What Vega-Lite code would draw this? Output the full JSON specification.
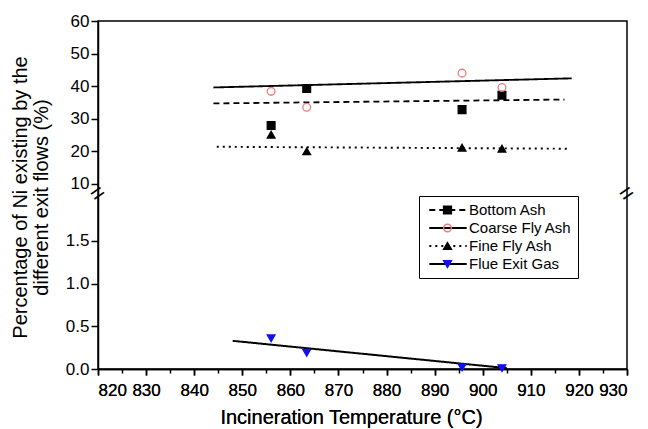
{
  "$schema": "https://vega.github.io/schema/vega-lite/v6.json",
  "width": 529,
  "height": 348,
  "autosize": "none",
  "padding": {"left": 98, "top": 21, "right": 21, "bottom": 60},
  "background": "white",
  "config": {
    "font": "Liberation Sans",
    "view": {"stroke": "black", "strokeWidth": 1.5},
    "axis": {
      "labelFont": "Liberation Sans",
      "titleFont": "Liberation Sans",
      "labelColor": "black",
      "titleColor": "black",
      "domainColor": "black",
      "tickColor": "black",
      "grid": false,
      "labelFontSize": 17,
      "titleFontSize": 20,
      "titleFontWeight": "normal",
      "domainWidth": 1.5,
      "tickWidth": 1.5
    },
    "legend": {"labelFont": "Liberation Sans", "labelFontSize": 15, "labelColor": "black"}
  },
  "datasets": {
    "points": [
      {"x": 856, "y": 27.9, "series": "Bottom Ash"},
      {"x": 863.4, "y": 39.3, "series": "Bottom Ash"},
      {"x": 895.7, "y": 32.8, "series": "Bottom Ash"},
      {"x": 904, "y": 37.2, "series": "Bottom Ash"},
      {"x": 856, "y": 38.4, "series": "Coarse Fly Ash"},
      {"x": 863.4, "y": 33.5, "series": "Coarse Fly Ash"},
      {"x": 895.7, "y": 44.0, "series": "Coarse Fly Ash"},
      {"x": 904, "y": 39.6, "series": "Coarse Fly Ash"},
      {"x": 856, "y": 25.1, "series": "Fine Fly Ash"},
      {"x": 863.4, "y": 20.0, "series": "Fine Fly Ash"},
      {"x": 895.7, "y": 21.1, "series": "Fine Fly Ash"},
      {"x": 904, "y": 20.8, "series": "Fine Fly Ash"},
      {"x": 856, "y": 0.36, "series": "Flue Exit Gas"},
      {"x": 863.4, "y": 0.19, "series": "Flue Exit Gas"},
      {"x": 895.7, "y": 0.02, "series": "Flue Exit Gas"},
      {"x": 904, "y": 0.01, "series": "Flue Exit Gas"}
    ],
    "fits": [
      {"x": 844, "y": 34.7, "line": "Bottom Ash"},
      {"x": 917, "y": 35.9, "line": "Bottom Ash"},
      {"x": 844, "y": 39.6, "line": "Coarse Fly Ash"},
      {"x": 918.5, "y": 42.4, "line": "Coarse Fly Ash"},
      {"x": 844.7, "y": 21.4, "line": "Fine Fly Ash"},
      {"x": 917.5, "y": 20.8, "line": "Fine Fly Ash"},
      {"x": 848, "y": 0.33, "line": "Flue Exit Gas"},
      {"x": 905, "y": 0.01, "line": "Flue Exit Gas"}
    ],
    "breaks": [
      {"x": 820, "y": 4.5, "mark": "="},
      {"x": 930, "y": 4.5, "mark": "="}
    ]
  },
  "encoding": {
    "x": {
      "field": "x",
      "type": "quantitative",
      "scale": {"domain": [820, 930], "nice": false, "zero": false},
      "axis": {
        "orient": "bottom",
        "values": [820, 830, 840, 850, 860, 870, 880, 890, 900, 910, 920, 930],
        "tickSize": 6,
        "labelPadding": 7,
        "title": "Incineration Temperature (°C)",
        "titlePadding": 9,
        "titleX": 253
      }
    },
    "y": {
      "field": "y",
      "type": "quantitative",
      "scale": {"domain": [0, 2.05, 6.9, 60], "range": [348, 173, 173, 0], "nice": false, "zero": false},
      "axis": {
        "values": [0, 0.5, 1, 1.5, 10, 20, 30, 40, 50, 60],
        "labelExpr": "datum.value < 5 ? format(datum.value, '.1f') : format(datum.value, 'd')",
        "tickSize": 7,
        "labelPadding": 2,
        "title": ["Percentage of Ni existing by the", "different exit flows (%)"],
        "titleFontSize": 20,
        "titleLineHeight": 21,
        "titlePadding": 14,
        "titleY": 176
      }
    }
  },
  "layer": [
    {
      "data": {"name": "fits"},
      "mark": {"type": "line", "color": "black"},
      "encoding": {
        "strokeDash": {
          "field": "line",
          "type": "nominal",
          "scale": {"range": [[6, 4], [1, 0], [2, 4], [1, 0]]},
          "legend": {
            "orient": "none",
            "legendX": 321,
            "legendY": 175,
            "title": null,
            "symbolType": "stroke",
            "symbolSize": 1400,
            "symbolStrokeColor": "black",
            "clipHeight": 16,
            "rowPadding": 2,
            "padding": 6,
            "symbolOffset": 3,
            "labelOffset": 1,
            "strokeColor": "black",
            "fillColor": "white"
          }
        },
        "strokeWidth": {
          "field": "line",
          "type": "nominal",
          "scale": {"range": [1.8, 2, 2, 1.2]},
          "legend": {
            "orient": "none",
            "legendX": 321,
            "legendY": 175,
            "title": null,
            "symbolType": "stroke",
            "symbolSize": 1400,
            "symbolStrokeColor": "black",
            "clipHeight": 16,
            "rowPadding": 2,
            "padding": 6,
            "symbolOffset": 3,
            "labelOffset": 1,
            "strokeColor": "black",
            "fillColor": "white"
          }
        }
      }
    },
    {
      "data": {"name": "points"},
      "mark": {"type": "point", "filled": true, "opacity": 1, "size": 60, "strokeWidth": 1.3},
      "encoding": {
        "shape": {
          "field": "series",
          "type": "nominal",
          "scale": {
            "domain": ["Bottom Ash", "Coarse Fly Ash", "Fine Fly Ash", "Flue Exit Gas"],
            "range": ["square", "circle", "triangle-up", "triangle-down"]
          },
          "legend": {
            "orient": "none",
            "legendX": 336,
            "legendY": 175,
            "title": null,
            "clipHeight": 16,
            "rowPadding": 2,
            "padding": 6,
            "symbolSize": 60,
            "labelExpr": "''"
          }
        },
        "fill": {
          "field": "series",
          "type": "nominal",
          "scale": {
            "domain": ["Bottom Ash", "Coarse Fly Ash", "Fine Fly Ash", "Flue Exit Gas"],
            "range": ["black", "rgba(0,0,0,0)", "black", "#1010f0"]
          },
          "legend": {
            "orient": "none",
            "legendX": 336,
            "legendY": 175,
            "title": null,
            "clipHeight": 16,
            "rowPadding": 2,
            "padding": 6,
            "symbolSize": 60,
            "labelExpr": "''"
          }
        },
        "stroke": {
          "field": "series",
          "type": "nominal",
          "scale": {
            "domain": ["Bottom Ash", "Coarse Fly Ash", "Fine Fly Ash", "Flue Exit Gas"],
            "range": ["black", "#ec7b7b", "black", "#1010f0"]
          },
          "legend": {
            "orient": "none",
            "legendX": 336,
            "legendY": 175,
            "title": null,
            "clipHeight": 16,
            "rowPadding": 2,
            "padding": 6,
            "symbolSize": 60,
            "labelExpr": "''"
          }
        }
      }
    },
    {
      "data": {"name": "breaks"},
      "mark": {"type": "text", "angle": -35, "fontSize": 24, "color": "black", "baseline": "middle", "align": "center"},
      "encoding": {
        "x": {
          "field": "x",
          "type": "quantitative",
          "scale": {"domain": [820, 930], "nice": false, "zero": false},
          "axis": {
            "orient": "bottom",
            "values": [825, 835, 845, 855, 865, 875, 885, 895, 905, 915, 925],
            "tickSize": 4,
            "labels": false,
            "domain": false,
            "title": null
          }
        },
        "text": {"field": "mark"}
      }
    }
  ],
  "resolve": {"axis": {"x": "independent"}}
}
